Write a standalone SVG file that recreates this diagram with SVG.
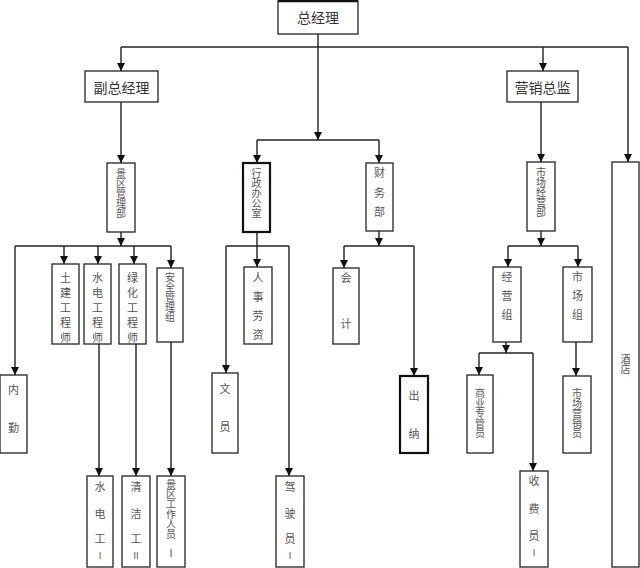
<svg xmlns="http://www.w3.org/2000/svg" width="640" height="568" viewBox="0 0 640 568">
<style>
.b{fill:#fff;stroke:#222;stroke-width:1.3}
.bt{fill:#fff;stroke:#111;stroke-width:2.2}
.l{fill:none;stroke:#222;stroke-width:1.4}
.a{fill:none;stroke:#222;stroke-width:1.4;marker-end:url(#ar)}
text{font-family:"Noto Sans CJK SC","Noto Sans",sans-serif;fill:#555;text-anchor:middle;dominant-baseline:central}
.t14{font-size:14px;fill:#333}
.t11{font-size:11px}
.v{font-size:10px;writing-mode:vertical-rl;text-anchor:start}
.t10{font-size:10px}
.r{font-size:9px}
</style>
<defs>
<marker id="ar" markerUnits="userSpaceOnUse" markerWidth="9" markerHeight="9" refX="8" refY="4" orient="auto" viewBox="0 0 9 8">
<path d="M0,0 L8,4 L0,8 z" fill="#111"/>
</marker>
</defs>
<g id="connectors">
<line class="a" x1="318" y1="34" x2="318" y2="140"/>
<line class="l" x1="121" y1="47" x2="628" y2="47"/>
<line class="a" x1="121" y1="47" x2="121" y2="71"/>
<line class="a" x1="543" y1="47" x2="543" y2="71"/>
<line class="a" x1="628" y1="47" x2="628" y2="162"/>
<line class="l" x1="257" y1="140" x2="379" y2="140"/>
<line class="a" x1="257" y1="140" x2="257" y2="163"/>
<line class="a" x1="379" y1="140" x2="379" y2="163"/>
<line class="a" x1="121" y1="102" x2="121" y2="163"/>
<line class="a" x1="121" y1="232" x2="121" y2="246"/>
<line class="l" x1="15" y1="246" x2="171" y2="246"/>
<line class="a" x1="15" y1="246" x2="15" y2="375"/>
<line class="a" x1="64" y1="246" x2="64" y2="264"/>
<line class="a" x1="98" y1="246" x2="98" y2="264"/>
<line class="a" x1="134" y1="246" x2="134" y2="264"/>
<line class="a" x1="171" y1="246" x2="171" y2="268"/>
<line class="a" x1="99" y1="344" x2="99" y2="476"/>
<line class="a" x1="136" y1="344" x2="136" y2="476"/>
<line class="a" x1="171" y1="342" x2="171" y2="476"/>
<line class="a" x1="257" y1="232" x2="257" y2="267"/>
<line class="l" x1="226" y1="246" x2="289" y2="246"/>
<line class="a" x1="226" y1="246" x2="226" y2="373"/>
<line class="a" x1="289" y1="246" x2="289" y2="476"/>
<line class="a" x1="379" y1="231" x2="379" y2="246"/>
<line class="l" x1="344" y1="246" x2="414" y2="246"/>
<line class="a" x1="344" y1="246" x2="344" y2="268"/>
<line class="a" x1="414" y1="246" x2="414" y2="376"/>
<line class="a" x1="541" y1="102" x2="541" y2="162"/>
<line class="a" x1="541" y1="231" x2="541" y2="246"/>
<line class="l" x1="508" y1="246" x2="578" y2="246"/>
<line class="a" x1="508" y1="246" x2="508" y2="267"/>
<line class="a" x1="578" y1="246" x2="578" y2="267"/>
<line class="a" x1="506" y1="342" x2="506" y2="353"/>
<line class="l" x1="479" y1="353" x2="533" y2="353"/>
<line class="a" x1="479" y1="353" x2="479" y2="375"/>
<line class="a" x1="533" y1="353" x2="533" y2="471"/>
<line class="a" x1="576" y1="342" x2="576" y2="376"/>
</g>
<g id="zongjingli"><rect class="b" x="278" y="1" width="80" height="33"/><line x1="278" y1="1" x2="358" y2="1" stroke="#111" stroke-width="2.5"/><text class="t14" x="318" y="17">总经理</text></g>
<g id="fuzongjingli"><rect class="b" x="85" y="71" width="73" height="31"/><text class="t14" x="121.5" y="87">副总经理</text></g>
<g id="yingxiaozongjian"><rect class="b" x="507" y="71" width="71" height="31"/><text class="t14" x="542.5" y="87">营销总监</text></g>
<g id="jingquguanlibu"><rect class="b" x="107" y="163" width="28" height="69"/><text class="v" x="121" y="168">景区管理部</text></g>
<g id="tujian"><rect class="b" x="52" y="264" width="27" height="80"/><text class="t11"><tspan x="65.5" y="277">土</tspan><tspan x="65.5" y="292">建</tspan><tspan x="65.5" y="307">工</tspan><tspan x="65.5" y="322">程</tspan><tspan x="65.5" y="337">师</tspan></text></g>
<g id="shuidian"><rect class="b" x="84" y="264" width="27" height="80"/><text class="t11"><tspan x="97.5" y="277">水</tspan><tspan x="97.5" y="292">电</tspan><tspan x="97.5" y="307">工</tspan><tspan x="97.5" y="322">程</tspan><tspan x="97.5" y="337">师</tspan></text></g>
<g id="lvhua"><rect class="b" x="119" y="264" width="27" height="80"/><text class="t11"><tspan x="132.5" y="277">绿</tspan><tspan x="132.5" y="292">化</tspan><tspan x="132.5" y="307">工</tspan><tspan x="132.5" y="322">程</tspan><tspan x="132.5" y="337">师</tspan></text></g>
<g id="anquan"><rect class="b" x="157" y="268" width="26" height="74" stroke-width="1.8"/><text class="v" x="170" y="272">安全管理组</text></g>
<g id="neiqin"><rect class="b" x="0" y="375" width="27" height="78"/><text class="t11"><tspan x="13.5" y="389">内</tspan><tspan x="13.5" y="427">勤</tspan></text></g>
<g id="shuidiangong"><rect class="b" x="87" y="476" width="26" height="91"/><text class="t11"><tspan x="100" y="486">水</tspan><tspan x="100" y="513">电</tspan><tspan x="100" y="538">工</tspan></text><text class="r" x="100" y="555">Ⅰ</text></g>
<g id="qingjiegong"><rect class="b" x="122" y="476" width="28" height="91"/><text class="t11"><tspan x="136" y="486">清</tspan><tspan x="136" y="513">洁</tspan><tspan x="136" y="538">工</tspan></text><text class="r" x="136" y="555">Ⅱ</text></g>
<g id="jingqugongzuo"><rect class="b" x="157" y="476" width="28" height="91"/><text class="v" x="171" y="479">景区工作人员</text><text class="t10" x="171" y="552">Ⅰ</text></g>
<g id="xingzheng"><rect class="bt" x="243" y="163" width="27" height="69"/><text class="v" x="256.5" y="168">行政办公室</text></g>
<g id="caiwu"><rect class="b" x="366" y="163" width="27" height="68"/><text class="t11"><tspan x="379.5" y="172">财</tspan><tspan x="379.5" y="192">务</tspan><tspan x="379.5" y="211">部</tspan></text></g>
<g id="renshi"><rect class="b" x="244" y="267" width="28" height="77"/><text class="t11"><tspan x="258" y="277">人</tspan><tspan x="258" y="296">事</tspan><tspan x="258" y="315">劳</tspan><tspan x="258" y="334">资</tspan></text></g>
<g id="kuaiji"><rect class="b" x="333" y="268" width="26" height="76"/><text class="t11"><tspan x="346" y="277">会</tspan><tspan x="346" y="323">计</tspan></text></g>
<g id="wenyuan"><rect class="b" x="212" y="373" width="26" height="80"/><text class="t11"><tspan x="225" y="388">文</tspan><tspan x="225" y="426">员</tspan></text></g>
<g id="jiashiyuan"><rect class="b" x="276" y="476" width="28" height="91"/><text class="t11"><tspan x="290" y="486">驾</tspan><tspan x="290" y="513">驶</tspan><tspan x="290" y="538">员</tspan></text><text class="r" x="290" y="555">Ⅰ</text></g>
<g id="chuna"><rect class="bt" x="400" y="376" width="28" height="77"/><text class="t11"><tspan x="414" y="395">出</tspan><tspan x="414" y="433">纳</tspan></text></g>
<g id="shichangjingyingbu"><rect class="b" x="527" y="162" width="28" height="69"/><text class="v" x="541" y="167">市场经营部</text></g>
<g id="jingyingzu"><rect class="b" x="493" y="267" width="28" height="75"/><text class="t11"><tspan x="507" y="276">经</tspan><tspan x="507" y="295">营</tspan><tspan x="507" y="314">组</tspan></text></g>
<g id="shichangzu"><rect class="b" x="563" y="267" width="29" height="75"/><text class="t11"><tspan x="577.5" y="276">市</tspan><tspan x="577.5" y="295">场</tspan><tspan x="577.5" y="314">组</tspan></text></g>
<g id="shangye"><rect class="b" x="467" y="375" width="26" height="78"/><text class="v" x="480" y="388">商业专管员</text></g>
<g id="shoufeiyuan"><rect class="b" x="520" y="471" width="28" height="96"/><text class="t11"><tspan x="534" y="480">收</tspan><tspan x="534" y="508">费</tspan><tspan x="534" y="535">员</tspan></text><text class="r" x="534" y="552">Ⅰ</text></g>
<g id="shichangyingxiao"><rect class="b" x="563" y="376" width="28" height="77"/><text class="v" x="577" y="388">市场营销员</text></g>
<g id="jiudian"><rect class="b" x="612" y="162" width="27" height="405"/><text class="v" x="625.5" y="354">酒店</text></g>
</svg>
